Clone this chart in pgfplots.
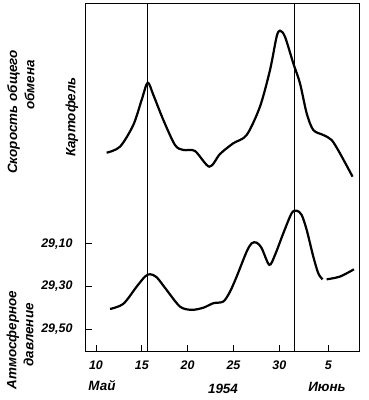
\documentclass[border=0pt]{standalone}
\usepackage{fontspec}
\setmainfont{Liberation Sans}
\usepackage{pgfplots}
\pgfplotsset{compat=1.18}
\begin{document}
\begin{tikzpicture}[x=1bp,y=1bp]
\useasboundingbox (0,0) rectangle (369,400);
\pgfplotsset{every tick label/.append style={font=\fontsize{12.5}{13}\selectfont\bfseries\itshape},
  /pgf/number format/assume math mode=true}
\begin{axis}[at={(85bp,49bp)}, anchor=south west, scale only axis,
  width=274bp, height=347bp,
  xmin=8.8, xmax=38.7, ymin=0, ymax=347,
  xtick={10,15,20,25,30,35.35}, xticklabels={10,15,20,25,30,5},
  xtick pos=bottom, ytick=\empty,
  tick align=inside, major tick length=6bp,
  tick style={line width=0.9bp, black},
  axis line style={line width=1bp},
  xticklabel style={yshift=-6bp},
  clip=false]
\draw[line width=0.7bp] (axis cs:15.64,0) -- (axis cs:15.64,347);
\draw[line width=0.7bp] (axis cs:31.68,0) -- (axis cs:31.68,347);
\addplot[smooth, line width=2.2bp, black] coordinates {
(11.16,198.3) (12.62,204.3) (14.07,226) (14.98,251) (15.64,268.3) (16.26,256)
(17.35,231) (18.62,206) (19.53,201) (20.80,200) (22.37,184.3) (23.53,197)
(24.98,207.7) (26.44,216) (27.89,244.3) (28.99,281) (29.71,314.3) (30.08,320.3)
(30.62,314.3) (31.53,287.7) (32.26,267.7) (32.99,237.7) (33.71,221) (34.80,216)
(35.71,211) (36.62,197.7) (38.00,174.3)};
\end{axis}
\begin{axis}[at={(85bp,49bp)}, anchor=south west, scale only axis,
  width=274bp, height=347bp,
  xmin=8.8, xmax=38.7, ymin=27.975, ymax=29.602, y dir=reverse,
  hide x axis, axis y line*=left,
  ytick={29.1,29.3,29.5}, yticklabels={{29,10},{29,30},{29,50}},
  tick align=inside, major tick length=7bp,
  tick style={line width=0.9bp, black},
  axis line style={line width=1bp},
  yticklabel style={xshift=-9bp}]
\addplot[smooth, line width=2.2bp, black] coordinates {
(11.53,29.405) (12.98,29.381) (14.44,29.300) (15.35,29.253) (15.89,29.242)
(16.62,29.256) (17.71,29.316) (19.17,29.394) (20.44,29.409) (21.71,29.399)
(22.80,29.378) (23.89,29.370) (24.62,29.324) (25.35,29.253) (26.44,29.136)
(26.99,29.097) (27.53,29.094) (28.08,29.120) (28.91,29.198) (29.53,29.152)
(30.44,29.050) (31.35,28.956) (31.90,28.944) (32.44,28.964) (32.99,29.034)
(33.71,29.159) (34.26,29.238) (34.73,29.266)};
\addplot[smooth, line width=2.2bp, black] coordinates {
(35.17,29.266) (36.62,29.253) (38.15,29.219)};
\end{axis}
\begin{scope}[every node/.style={font=\fontsize{13.5}{14}\selectfont\bfseries\itshape, inner sep=0pt}]
\node[rotate=90] at (13.5,288) {Скорость общего};
\node[rotate=90] at (29.5,315) {обмена};
\node[rotate=90] at (72,283) {Картофель};
\node[rotate=90] at (13,60) {Атмосферное};
\node[rotate=90] at (28.5,65) {давление};
\node at (102,14) {Май};
\node at (223,11) {1954};
\node at (327,13) {Июнь};
\end{scope}
\end{tikzpicture}
\end{document}
